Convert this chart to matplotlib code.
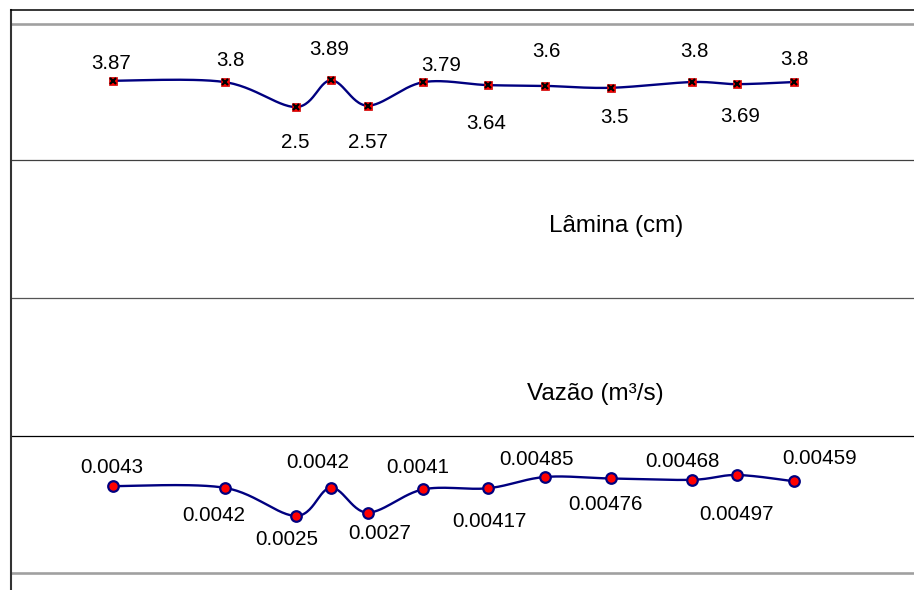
import numpy as np
import matplotlib
matplotlib.use("Agg")
import matplotlib.pyplot as plt

plt.rcParams['font.family'] = ['Liberation Sans', 'DejaVu Sans']

# distância ao longo do canal (m)
dist = [0, 11.15, 18.3, 21.8, 25.45, 31.0, 37.5, 43.2, 49.75, 57.9, 62.4, 68.1]
lamina = [3.87, 3.8, 2.5, 3.89, 2.57, 3.79, 3.64, 3.6, 3.5, 3.8, 3.69, 3.8]
vazao = [0.0043, 0.0042, 0.0025, 0.0042, 0.0027, 0.0041, 0.00417,
         0.00485, 0.00476, 0.00468, 0.00497, 0.00459]

# deslocamento dos rótulos (pixels, centro do texto em relação ao ponto)
off_lamina = [(-1.5, 18.7), (6, 23), (-1, -34), (-2, 33), (0, -35), (18, 19),
              (-2, -36), (1, 36), (3.5, -28), (2, 32), (3, -30), (0, 24.5)]
off_vazao = [(-1, 20), (-10.5, -26), (-9, -22), (-13, 27), (12, -19.5), (-5, 24),
             (1, -31), (-8, 19), (-5.5, -24.5), (-10, 20), (0, -38), (26, 25)]

W, H = 914, 590
NAVY = '#000080'


def suave(x, y, n=30):
    # curva suavizada tipo Excel (Bezier com tangentes de Catmull-Rom)
    x = np.asarray(x, float)
    y = np.asarray(y, float)
    px = np.concatenate([[x[0]], x, [x[-1]]])
    py = np.concatenate([[y[0]], y, [y[-1]]])
    t = np.linspace(0, 1, n)
    xs, ys = [], []
    for i in range(1, len(px) - 2):
        p0 = np.array([px[i], py[i]])
        p3 = np.array([px[i + 1], py[i + 1]])
        p1 = p0 + (np.array([px[i + 1], py[i + 1]]) - np.array([px[i - 1], py[i - 1]])) / 6
        p2 = p3 - (np.array([px[i + 2], py[i + 2]]) - np.array([px[i], py[i]])) / 6
        b = ((1 - t) ** 3)[:, None] * p0 + (3 * (1 - t) ** 2 * t)[:, None] * p1 \
            + (3 * (1 - t) * t ** 2)[:, None] * p2 + (t ** 3)[:, None] * p3
        xs.append(b[:, 0])
        ys.append(b[:, 1])
    return np.concatenate(xs), np.concatenate(ys)


fig = plt.figure(figsize=(W / 100, H / 100), dpi=100)
fig.patch.set_facecolor('white')

# moldura com as linhas de grade
ax = fig.add_axes([11 / W, 0, (W - 11) / W, (H - 10) / H])
ax.set_xlim(0, W - 11)
ax.set_ylim(H, 10)
ax.set_xticks([])
ax.set_yticks([])
for s in ['right', 'bottom']:
    ax.spines[s].set_visible(False)
ax.spines['left'].set_color('#333333')
ax.spines['left'].set_linewidth(1.5)
ax.spines['top'].set_color('black')
ax.spines['top'].set_linewidth(1.1)
ax.axhline(23.5, color='#a0a0a0', lw=1.9)
ax.axhline(160, color='#404040', lw=0.9)
ax.axhline(298, color='#555555', lw=0.9)
ax.axhline(435.5, color='black', lw=0.9)
ax.axhline(572.5, color='#a0a0a0', lw=1.9)

xlim = ((11 - 113) / 10, (W - 113) / 10)

# Lâmina
ax1 = fig.add_axes([11 / W, (H - 160) / H, (W - 11) / W, 137 / H])
ax1.set_xlim(*xlim)
ax1.set_ylim(-0.26, 6.875)
ax1.axis('off')
sx, sy = suave(dist, lamina)
ax1.plot(sx, sy, color=NAVY, lw=1.7, clip_on=False)
ax1.plot(dist, lamina, ls='none', marker='s', ms=6, mfc='red', mec='#cc0000', mew=0.5)
ax1.plot(dist, lamina, ls='none', marker='x', ms=4.5, mec='black', mew=1.6)
for x, v, (dx, dy) in zip(dist, lamina, off_lamina):
    ax1.annotate(f'{v:g}', (x, v), xytext=(dx, dy - 7.4), textcoords='offset pixels',
                 ha='center', va='baseline', fontsize=14.8, color='black')

# Vazão
ax2 = fig.add_axes([11 / W, (H - 573) / H, (W - 11) / W, 137 / H])
ax2.set_xlim(*xlim)
ax2.set_ylim(-0.000948, 0.007325)
ax2.axis('off')
sx, sy = suave(dist, vazao)
ax2.plot(sx, sy, color=NAVY, lw=1.7, clip_on=False)
ax2.plot(dist, vazao, ls='none', marker='o', ms=7.6, mfc='red', mec=NAVY, mew=1.6)
for x, v, (dx, dy) in zip(dist, vazao, off_vazao):
    ax2.annotate(f'{v:g}', (x, v), xytext=(dx, dy - 7.4), textcoords='offset pixels',
                 ha='center', va='baseline', fontsize=14.8, color='black')

fig.text(616 / W, 1 - 232.3 / H, 'Lâmina (cm)', ha='center', va='baseline', fontsize=17.5)
fig.text(595 / W, 1 - 400 / H, 'Vazão (m³/s)', ha='center', va='baseline', fontsize=17.5)

fig.savefig('out.png', dpi=100)
